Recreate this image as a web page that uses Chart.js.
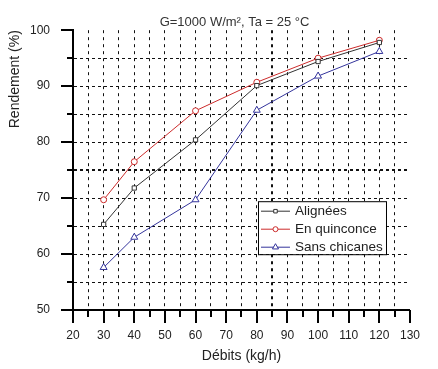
<!DOCTYPE html>
<html>
<head>
<meta charset="utf-8">
<script src="https://cdn.jsdelivr.net/npm/chart.js@4/dist/chart.umd.min.js"></script>
<style>
html,body{margin:0;padding:0;background:#fff;}
#wrap{position:relative;width:438px;height:369px;}
</style>
</head>
<body>
<div id="wrap"><canvas id="c" width="438" height="369"></canvas></div>
<script>
const debits = [30, 40, 60, 80, 100, 120];
const alignees = [65.3, 71.8, 80.4, 90.1, 94.4, 97.8];
const quinconce = [69.7, 76.5, 85.6, 90.7, 95.0, 98.2];
const sansChicanes = [57.6, 63.0, 69.7, 85.7, 91.8, 96.2];
const seriesNames = ['Alignées', 'En quinconce', 'Sans chicanes'];
const chartTitle = 'G=1000 W/m², Ta = 25 °C';
const xTitle = 'Débits (kg/h)';
const yTitle = 'Rendement (%)';

const FONT = '"Liberation Sans", Arial, sans-serif';
const toPts = (ys) => debits.map((x, i) => ({x, y: ys[i]}));

const titlePlugin = {
  id: 'customTitle',
  afterDraw(chart) {
    const {ctx, chartArea} = chart;
    ctx.save();
    ctx.fillStyle = '#333';
    ctx.font = '13px ' + FONT;
    ctx.textAlign = 'center';
    ctx.textBaseline = 'middle';
    ctx.fillText(chartTitle, (chartArea.left + chartArea.right) / 2 - 7, chartArea.top - 8);
    ctx.restore();
  }
};

const tickPlugin = {
  id: 'tickMarks',
  afterDraw(chart) {
    const {ctx, scales} = chart;
    const xs = scales.x, ys = scales.y;
    ctx.save();
    ctx.strokeStyle = '#000';
    ctx.lineWidth = 2;
    xs.ticks.forEach(t => {
      const px = Math.round(xs.getPixelForValue(t.value));
      const len = t.value % 10 === 0 ? 13 : 7;
      ctx.beginPath();
      ctx.moveTo(px, xs.top);
      ctx.lineTo(px, xs.top + len);
      ctx.stroke();
    });
    ys.ticks.forEach(t => {
      const py = Math.round(ys.getPixelForValue(t.value));
      const len = t.value % 10 === 0 ? 12 : 6;
      ctx.beginPath();
      ctx.moveTo(ys.right, py);
      ctx.lineTo(ys.right - len, py);
      ctx.stroke();
    });
    ctx.restore();
  }
};

const legendPlugin = {
  id: 'boxLegend',
  afterDraw(chart) {
    const {ctx, chartArea} = chart;
    const left = chartArea.right - 152, top = chartArea.top + 171;
    const w = 128, h = 53, rowH = 18;
    ctx.save();
    ctx.fillStyle = '#fff';
    ctx.fillRect(left, top, w, h);
    ctx.strokeStyle = '#000';
    ctx.lineWidth = 1;
    ctx.strokeRect(left + 0.5, top + 0.5, w, h);
    ctx.font = '13.5px ' + FONT;
    ctx.textBaseline = 'middle';
    chart.data.datasets.forEach((ds, i) => {
      const cy = top + 9.5 + i * rowH;
      ctx.strokeStyle = ds.borderColor;
      ctx.lineWidth = 1;
      ctx.beginPath();
      ctx.moveTo(left + 3, cy + 0.5);
      ctx.lineTo(left + 32, cy + 0.5);
      ctx.stroke();
      ctx.fillStyle = '#fff';
      ctx.strokeStyle = ds.pointBorderColor;
      Chart.helpers.drawPoint(ctx, {
        pointStyle: ds.pointStyle, radius: ds.pointRadius - 0.5, borderWidth: 1, rotation: 0
      }, left + 17.5, cy + 0.5);
      ctx.fillStyle = '#222';
      ctx.fillText(ds.label, left + 37, cy + 1);
    });
    ctx.restore();
  }
};

const mk = (label, data, color, style, r) => ({
  label, data: toPts(data), borderColor: color, backgroundColor: '#fff',
  pointBackgroundColor: '#fff', pointBorderColor: color, pointStyle: style,
  pointRadius: r, pointBorderWidth: 1, borderWidth: 1, tension: 0,
  fill: false
});

const gridColor = (skip) => ctx => {
  const v = ctx.tick && ctx.tick.value;
  if (skip.includes(v)) return 'rgba(0,0,0,0)';
  return '#111';
};

new Chart(document.getElementById('c'), {
  type: 'line',
  data: {
    datasets: [
      mk(seriesNames[0], alignees, '#333333', 'rect', 3),
      mk(seriesNames[1], quinconce, '#cc2b2b', 'circle', 3),
      mk(seriesNames[2], sansChicanes, '#34349c', 'triangle', 4)
    ]
  },
  options: {
    responsive: false,
    animation: false,
    layout: {padding: {left: 0, right: 10, top: 28, bottom: 0}},
    plugins: {legend: {display: false}, tooltip: {enabled: false}, title: {display: false}},
    scales: {
      x: {
        type: 'linear', min: 20, max: 130,
        afterFit: s => { s.height = 59; },
        ticks: {stepSize: 5, autoSkip: false, maxRotation: 0, padding: 18,
          color: '#222', font: {size: 12, family: FONT},
          callback: v => (v % 10 === 0 ? v : '')},
        grid: {drawTicks: false, color: gridColor([20, 130]),
          lineWidth: c => (c.tick && c.tick.value === 85 ? 2 : 1)},
        border: {display: true, color: '#000', width: 2, dash: [3, 4]},
        title: {display: true, text: xTitle, color: '#222',
          font: {size: 14, family: FONT}, padding: {top: 4, bottom: 4}}
      },
      y: {
        type: 'linear', min: 50, max: 100,
        afterFit: s => { s.width = 73; },
        ticks: {stepSize: 5, autoSkip: false, padding: 23,
          color: '#222', font: {size: 12, family: FONT},
          callback: v => (v % 10 === 0 ? v : '')},
        grid: {drawTicks: false, color: gridColor([50, 100]),
          lineWidth: c => (c.tick && c.tick.value === 75 ? 2 : 1)},
        border: {display: true, color: '#000', width: 2, dash: [3, 3]},
        title: {display: true, text: yTitle, align: 'end', color: '#222',
          font: {size: 14, family: FONT}, padding: {top: 7, bottom: 7}}
      }
    }
  },
  plugins: [titlePlugin, tickPlugin, legendPlugin]
});
</script>
</body>
</html>
